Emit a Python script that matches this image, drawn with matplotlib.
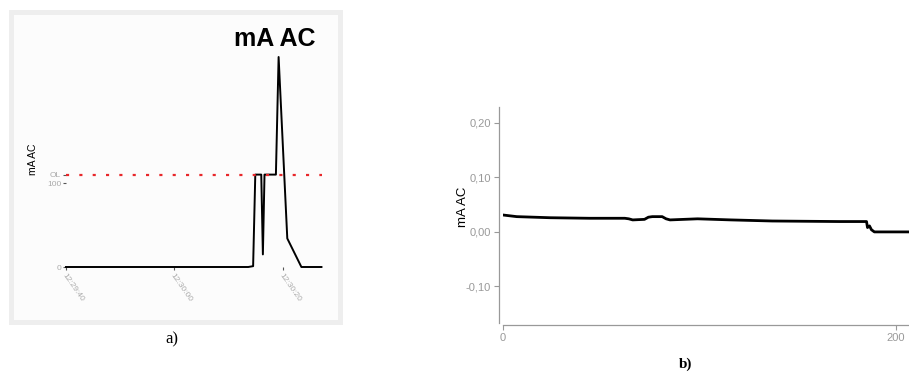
import matplotlib
matplotlib.use('Agg')
import matplotlib.pyplot as plt
from matplotlib.patches import Rectangle

plt.rcParams['font.family'] = ['Liberation Sans', 'DejaVu Sans']

# %%
# panel a) : clamp meter log, seconds after 12:29:40
a_time = [0, 33.6, 34.5, 34.9, 36.0, 36.3, 36.6, 38.7, 39.2, 40.8, 43.4, 47.1]
a_value = [0, 0, 1, 110, 110, 15, 110, 110, 250, 34, 0, 0]
a_ol_level = 110
a_xticks = [0, 20, 40]
a_xticklabels = ['12:29:40', '12:30:00', '12:30:20']
a_yticks = [0, 100, 110]
a_yticklabels = ['0', '100', 'OL']

# panel b) : logged current
b_x = [0, 7, 24, 44, 62, 64, 66, 72, 74, 76, 81, 83, 85, 99, 116, 137, 171, 185, 185.5, 186.5, 187.5, 189, 207]
b_y = [0.031, 0.028, 0.026, 0.025, 0.025, 0.024, 0.022, 0.023, 0.027, 0.028, 0.028, 0.024, 0.022, 0.024,
       0.022, 0.020, 0.019, 0.019, 0.008, 0.011, 0.004, 0.000, 0.000]
b_yticks = [-0.10, 0.00, 0.10, 0.20]
b_yticklabels = ['-0,10', '0,00', '0,10', '0,20']
b_xticks = [0, 200]

# %%
W, H = 909, 373
fig = plt.figure(figsize=(W / 100, H / 100), dpi=100)


def px_axes(left, top, right, bottom):
    return fig.add_axes([left / W, 1 - bottom / H, (right - left) / W, (bottom - top) / H])


# frame of screenshot a)
fig.patches.append(Rectangle((10.5 / W, 1 - 322 / H), 329 / W, 310 / H,
                             transform=fig.transFigure, facecolor='#fcfcfc',
                             edgecolor='#eeeeee', linewidth=3.6, zorder=-5))

# %%
ax = px_axes(66, 48.6, 322, 267)
ax.set_facecolor('none')
ax.plot(a_time, a_value, color='black', lw=1.4, clip_on=False)
ax.plot([0, 47.2], [a_ol_level, a_ol_level], color='#e8272a', lw=1.6,
        linestyle=(0, (1.4, 4.6)), clip_on=False)
ax.set_xlim(0, 47.2)
ax.set_ylim(0, 260)
for s in ax.spines.values():
    s.set_visible(False)
ax.set_xticks(a_xticks)
ax.set_xticklabels(a_xticklabels, rotation=-55, ha='left', va='top',
                   rotation_mode='anchor', fontsize=6, color='#aaaaaa')
ax.set_yticks(a_yticks)
ax.set_yticklabels(a_yticklabels, fontsize=6, color='#aaaaaa')
ax.tick_params(axis='both', length=2, width=0.8, color='#555555', pad=1.5)
fig.text(33 / W, 1 - 159 / H, 'mA AC', rotation=90, ha='center', va='center',
         fontsize=7.5, color='black')
fig.text(275 / W, 1 - 39 / H, 'mA AC', ha='center', va='center',
         fontsize=18, fontweight='bold', color='black')
fig.text(172 / W, 1 - 339 / H, 'a)', ha='center', va='center', fontsize=12,
         family='Liberation Serif')

# %%
bx = px_axes(503, 107, 503 + 210 * 1.965, 323)
bx.plot(b_x, b_y, color='black', lw=2.0)
bx.set_xlim(0, 210)
bx.set_ylim(-0.167, 0.229)
bx.spines['top'].set_visible(False)
bx.spines['right'].set_visible(False)
bx.spines['left'].set_position(('outward', 3))
bx.spines['bottom'].set_position(('outward', 1.5))
for s in ['left', 'bottom']:
    bx.spines[s].set_color('#999999')
    bx.spines[s].set_linewidth(0.9)
bx.set_yticks(b_yticks)
bx.set_yticklabels(b_yticklabels, fontsize=8, color='#999999')
bx.set_xticks(b_xticks)
bx.set_xticklabels([str(v) for v in b_xticks], fontsize=8, color='#999999')
bx.tick_params(axis='both', length=3.5, width=0.8, color='#999999', pad=2)
fig.text(463 / W, 1 - 207 / H, 'mA AC', rotation=90, ha='center', va='center',
         fontsize=9.5, color='black')
fig.text(686 / W, 1 - 364 / H, 'b)', ha='center', va='center', fontsize=11,
         fontweight='bold', family='Liberation Serif')

plt.savefig('out.png', dpi=100)
